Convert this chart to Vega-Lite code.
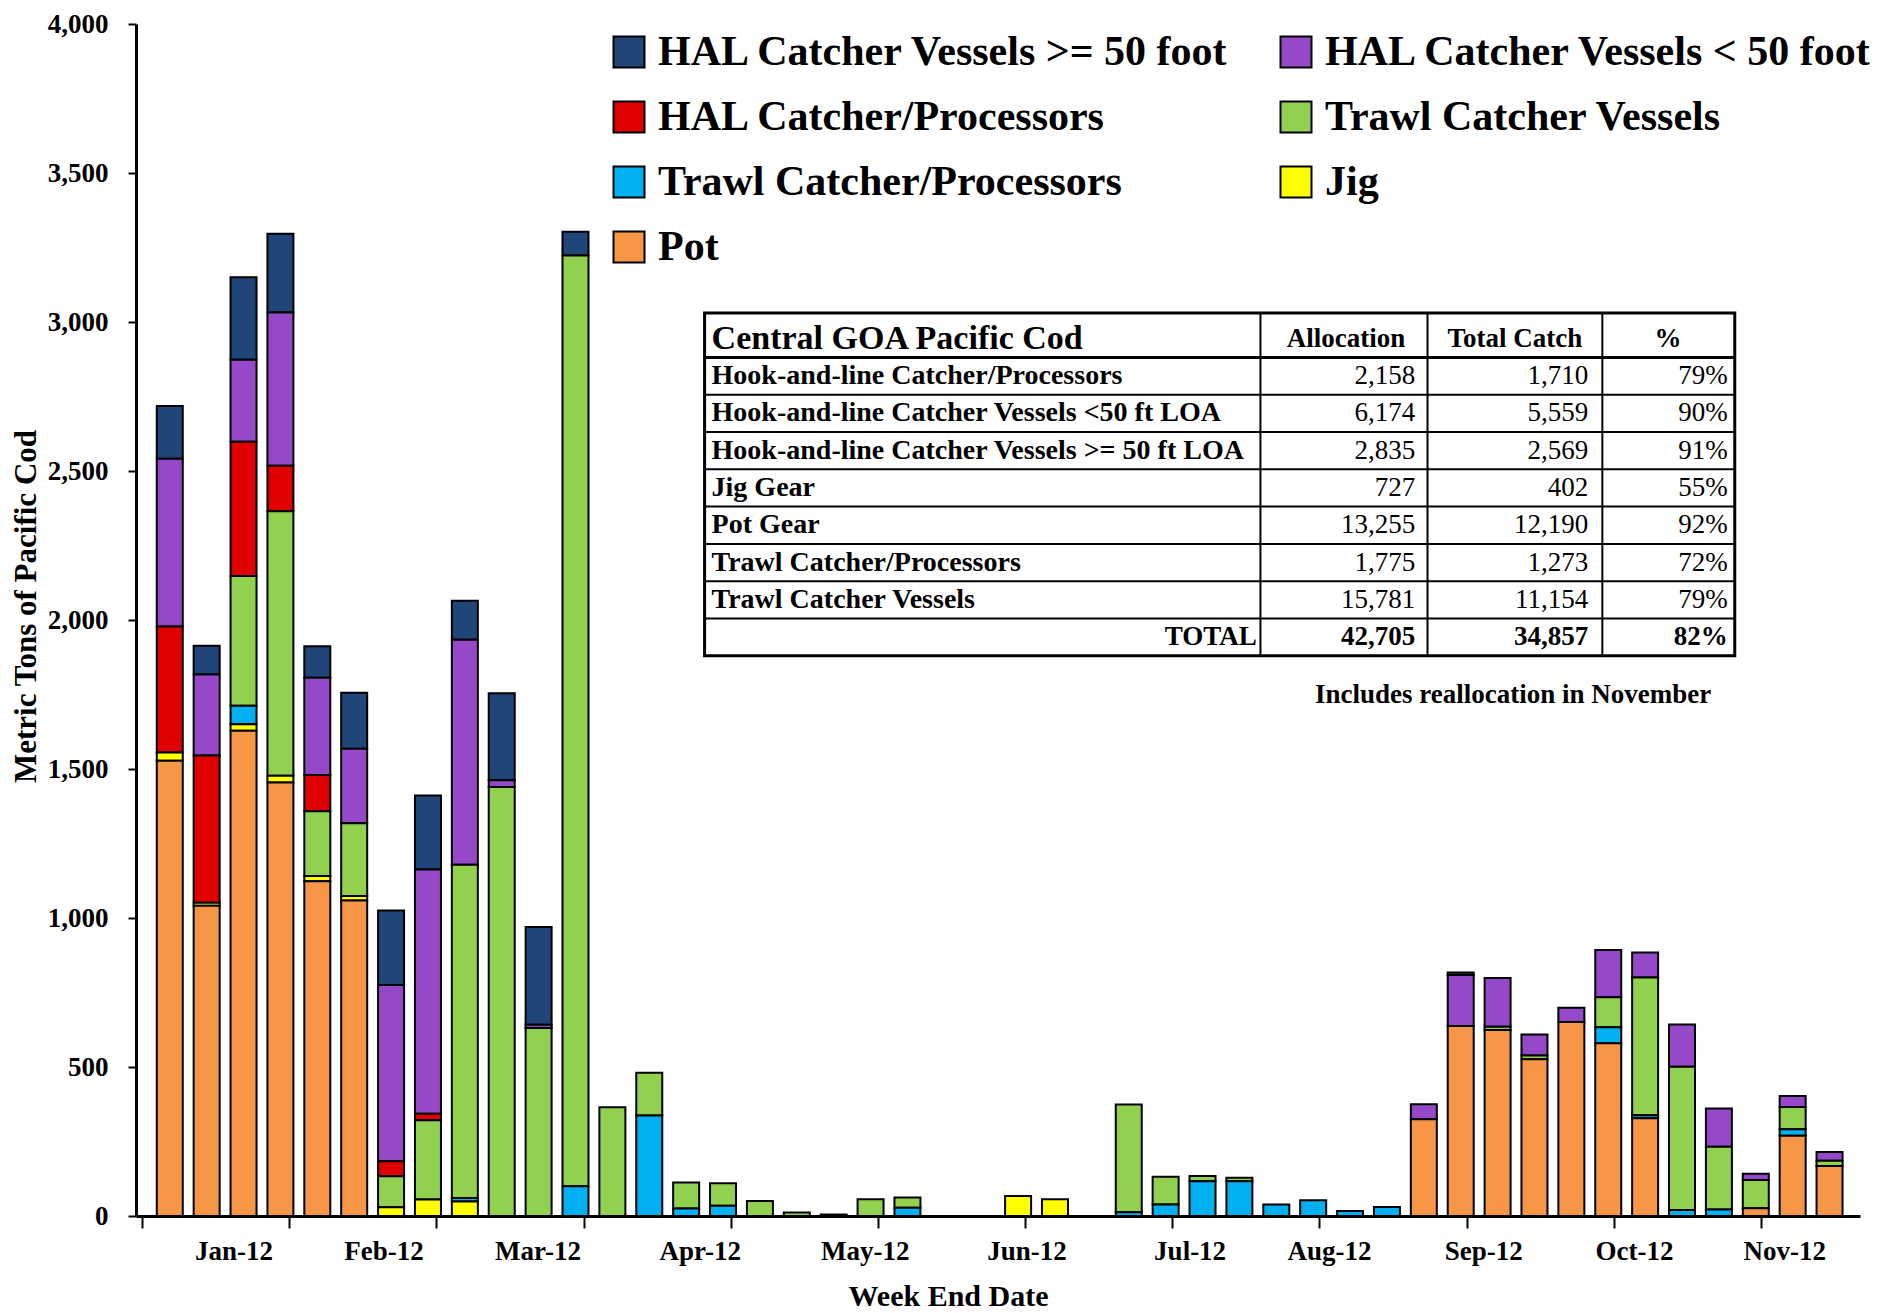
{
  "$schema": "https://vega.github.io/schema/vega-lite/v6.json",
  "width": 1724,
  "height": 1192,
  "autosize": {"type": "none"},
  "padding": {"left": 136, "top": 24, "right": 21, "bottom": 97},
  "background": "white",
  "config": {"view": {"stroke": null}, "font": "Liberation Serif"},
  "datasets": {
    "gears": [
      {"gear": "Pot", "series": 1},
      {"gear": "Jig", "series": 2},
      {"gear": "Trawl Catcher/Processors", "series": 3},
      {"gear": "Trawl Catcher Vessels", "series": 4},
      {"gear": "HAL Catcher/Processors", "series": 5},
      {"gear": "HAL Catcher Vessels < 50 foot", "series": 6},
      {"gear": "HAL Catcher Vessels >= 50 foot", "series": 7}
    ],
    "weeks": [
      {"week": 1, "HAL Catcher Vessels >= 50 foot": 177, "HAL Catcher Vessels < 50 foot": 563, "HAL Catcher/Processors": 423, "Trawl Catcher Vessels": 0, "Trawl Catcher/Processors": 0, "Jig": 27, "Pot": 1528},
      {"week": 2, "HAL Catcher Vessels >= 50 foot": 97, "HAL Catcher Vessels < 50 foot": 272, "HAL Catcher/Processors": 494, "Trawl Catcher Vessels": 0, "Trawl Catcher/Processors": 0, "Jig": 10, "Pot": 1041},
      {"week": 3, "HAL Catcher Vessels >= 50 foot": 277, "HAL Catcher Vessels < 50 foot": 275, "HAL Catcher/Processors": 450, "Trawl Catcher Vessels": 436, "Trawl Catcher/Processors": 62, "Jig": 22, "Pot": 1628},
      {"week": 4, "HAL Catcher Vessels >= 50 foot": 264, "HAL Catcher Vessels < 50 foot": 514, "HAL Catcher/Processors": 153, "Trawl Catcher Vessels": 888, "Trawl Catcher/Processors": 0, "Jig": 22, "Pot": 1455},
      {"week": 5, "HAL Catcher Vessels >= 50 foot": 106, "HAL Catcher Vessels < 50 foot": 326, "HAL Catcher/Processors": 122, "Trawl Catcher Vessels": 217, "Trawl Catcher/Processors": 0, "Jig": 18, "Pot": 1123},
      {"week": 6, "HAL Catcher Vessels >= 50 foot": 188, "HAL Catcher Vessels < 50 foot": 250, "HAL Catcher/Processors": 0, "Trawl Catcher Vessels": 244, "Trawl Catcher/Processors": 0, "Jig": 15, "Pot": 1059},
      {"week": 7, "HAL Catcher Vessels >= 50 foot": 250, "HAL Catcher Vessels < 50 foot": 591, "HAL Catcher/Processors": 51, "Trawl Catcher Vessels": 104, "Trawl Catcher/Processors": 0, "Jig": 29, "Pot": 0},
      {"week": 8, "HAL Catcher Vessels >= 50 foot": 248, "HAL Catcher Vessels < 50 foot": 820, "HAL Catcher/Processors": 22, "Trawl Catcher Vessels": 266, "Trawl Catcher/Processors": 0, "Jig": 55, "Pot": 0},
      {"week": 9, "HAL Catcher Vessels >= 50 foot": 131, "HAL Catcher Vessels < 50 foot": 755, "HAL Catcher/Processors": 0, "Trawl Catcher Vessels": 1119, "Trawl Catcher/Processors": 11, "Jig": 49, "Pot": 0},
      {"week": 10, "HAL Catcher Vessels >= 50 foot": 292, "HAL Catcher Vessels < 50 foot": 22, "HAL Catcher/Processors": 0, "Trawl Catcher Vessels": 1440, "Trawl Catcher/Processors": 0, "Jig": 0, "Pot": 0},
      {"week": 11, "HAL Catcher Vessels >= 50 foot": 328, "HAL Catcher Vessels < 50 foot": 11, "HAL Catcher/Processors": 0, "Trawl Catcher Vessels": 631, "Trawl Catcher/Processors": 0, "Jig": 0, "Pot": 0},
      {"week": 12, "HAL Catcher Vessels >= 50 foot": 80, "HAL Catcher Vessels < 50 foot": 0, "HAL Catcher/Processors": 0, "Trawl Catcher Vessels": 3123, "Trawl Catcher/Processors": 100, "Jig": 0, "Pot": 0},
      {"week": 13, "HAL Catcher Vessels >= 50 foot": 0, "HAL Catcher Vessels < 50 foot": 0, "HAL Catcher/Processors": 0, "Trawl Catcher Vessels": 365, "Trawl Catcher/Processors": 0, "Jig": 0, "Pot": 0},
      {"week": 14, "HAL Catcher Vessels >= 50 foot": 0, "HAL Catcher Vessels < 50 foot": 0, "HAL Catcher/Processors": 0, "Trawl Catcher Vessels": 144, "Trawl Catcher/Processors": 337, "Jig": 0, "Pot": 0},
      {"week": 15, "HAL Catcher Vessels >= 50 foot": 0, "HAL Catcher Vessels < 50 foot": 0, "HAL Catcher/Processors": 0, "Trawl Catcher Vessels": 87, "Trawl Catcher/Processors": 25, "Jig": 0, "Pot": 0},
      {"week": 16, "HAL Catcher Vessels >= 50 foot": 0, "HAL Catcher Vessels < 50 foot": 0, "HAL Catcher/Processors": 0, "Trawl Catcher Vessels": 76, "Trawl Catcher/Processors": 34, "Jig": 0, "Pot": 0},
      {"week": 17, "HAL Catcher Vessels >= 50 foot": 0, "HAL Catcher Vessels < 50 foot": 0, "HAL Catcher/Processors": 0, "Trawl Catcher Vessels": 50, "Trawl Catcher/Processors": 0, "Jig": 0, "Pot": 0},
      {"week": 18, "HAL Catcher Vessels >= 50 foot": 0, "HAL Catcher Vessels < 50 foot": 0, "HAL Catcher/Processors": 0, "Trawl Catcher Vessels": 12, "Trawl Catcher/Processors": 0, "Jig": 0, "Pot": 0},
      {"week": 19, "HAL Catcher Vessels >= 50 foot": 0, "HAL Catcher Vessels < 50 foot": 0, "HAL Catcher/Processors": 0, "Trawl Catcher Vessels": 0, "Trawl Catcher/Processors": 5, "Jig": 0, "Pot": 0},
      {"week": 20, "HAL Catcher Vessels >= 50 foot": 0, "HAL Catcher Vessels < 50 foot": 0, "HAL Catcher/Processors": 0, "Trawl Catcher Vessels": 56, "Trawl Catcher/Processors": 0, "Jig": 0, "Pot": 0},
      {"week": 21, "HAL Catcher Vessels >= 50 foot": 0, "HAL Catcher Vessels < 50 foot": 0, "HAL Catcher/Processors": 0, "Trawl Catcher Vessels": 34, "Trawl Catcher/Processors": 28, "Jig": 0, "Pot": 0},
      {"week": 22, "HAL Catcher Vessels >= 50 foot": 0, "HAL Catcher Vessels < 50 foot": 0, "HAL Catcher/Processors": 0, "Trawl Catcher Vessels": 0, "Trawl Catcher/Processors": 0, "Jig": 0, "Pot": 0},
      {"week": 23, "HAL Catcher Vessels >= 50 foot": 0, "HAL Catcher Vessels < 50 foot": 0, "HAL Catcher/Processors": 0, "Trawl Catcher Vessels": 0, "Trawl Catcher/Processors": 0, "Jig": 0, "Pot": 0},
      {"week": 24, "HAL Catcher Vessels >= 50 foot": 0, "HAL Catcher Vessels < 50 foot": 0, "HAL Catcher/Processors": 0, "Trawl Catcher Vessels": 0, "Trawl Catcher/Processors": 0, "Jig": 67, "Pot": 0},
      {"week": 25, "HAL Catcher Vessels >= 50 foot": 0, "HAL Catcher Vessels < 50 foot": 0, "HAL Catcher/Processors": 0, "Trawl Catcher Vessels": 0, "Trawl Catcher/Processors": 0, "Jig": 56, "Pot": 0},
      {"week": 26, "HAL Catcher Vessels >= 50 foot": 0, "HAL Catcher Vessels < 50 foot": 0, "HAL Catcher/Processors": 0, "Trawl Catcher Vessels": 0, "Trawl Catcher/Processors": 0, "Jig": 0, "Pot": 0},
      {"week": 27, "HAL Catcher Vessels >= 50 foot": 0, "HAL Catcher Vessels < 50 foot": 0, "HAL Catcher/Processors": 0, "Trawl Catcher Vessels": 361, "Trawl Catcher/Processors": 13, "Jig": 0, "Pot": 0},
      {"week": 28, "HAL Catcher Vessels >= 50 foot": 0, "HAL Catcher Vessels < 50 foot": 0, "HAL Catcher/Processors": 0, "Trawl Catcher Vessels": 93, "Trawl Catcher/Processors": 39, "Jig": 0, "Pot": 0},
      {"week": 29, "HAL Catcher Vessels >= 50 foot": 0, "HAL Catcher Vessels < 50 foot": 0, "HAL Catcher/Processors": 0, "Trawl Catcher Vessels": 17, "Trawl Catcher/Processors": 117, "Jig": 0, "Pot": 0},
      {"week": 30, "HAL Catcher Vessels >= 50 foot": 0, "HAL Catcher Vessels < 50 foot": 0, "HAL Catcher/Processors": 0, "Trawl Catcher Vessels": 11, "Trawl Catcher/Processors": 117, "Jig": 0, "Pot": 0},
      {"week": 31, "HAL Catcher Vessels >= 50 foot": 0, "HAL Catcher Vessels < 50 foot": 0, "HAL Catcher/Processors": 0, "Trawl Catcher Vessels": 0, "Trawl Catcher/Processors": 39, "Jig": 0, "Pot": 0},
      {"week": 32, "HAL Catcher Vessels >= 50 foot": 0, "HAL Catcher Vessels < 50 foot": 0, "HAL Catcher/Processors": 0, "Trawl Catcher Vessels": 0, "Trawl Catcher/Processors": 53, "Jig": 0, "Pot": 0},
      {"week": 33, "HAL Catcher Vessels >= 50 foot": 0, "HAL Catcher Vessels < 50 foot": 0, "HAL Catcher/Processors": 0, "Trawl Catcher Vessels": 0, "Trawl Catcher/Processors": 17, "Jig": 0, "Pot": 0},
      {"week": 34, "HAL Catcher Vessels >= 50 foot": 0, "HAL Catcher Vessels < 50 foot": 0, "HAL Catcher/Processors": 0, "Trawl Catcher Vessels": 0, "Trawl Catcher/Processors": 30, "Jig": 0, "Pot": 0},
      {"week": 35, "HAL Catcher Vessels >= 50 foot": 0, "HAL Catcher Vessels < 50 foot": 50, "HAL Catcher/Processors": 0, "Trawl Catcher Vessels": 0, "Trawl Catcher/Processors": 0, "Jig": 0, "Pot": 325},
      {"week": 36, "HAL Catcher Vessels >= 50 foot": 8, "HAL Catcher Vessels < 50 foot": 171, "HAL Catcher/Processors": 0, "Trawl Catcher Vessels": 0, "Trawl Catcher/Processors": 0, "Jig": 0, "Pot": 638},
      {"week": 37, "HAL Catcher Vessels >= 50 foot": 0, "HAL Catcher Vessels < 50 foot": 164, "HAL Catcher/Processors": 0, "Trawl Catcher Vessels": 11, "Trawl Catcher/Processors": 0, "Jig": 0, "Pot": 624},
      {"week": 38, "HAL Catcher Vessels >= 50 foot": 0, "HAL Catcher Vessels < 50 foot": 70, "HAL Catcher/Processors": 0, "Trawl Catcher Vessels": 13, "Trawl Catcher/Processors": 0, "Jig": 0, "Pot": 526},
      {"week": 39, "HAL Catcher Vessels >= 50 foot": 0, "HAL Catcher Vessels < 50 foot": 48, "HAL Catcher/Processors": 0, "Trawl Catcher Vessels": 0, "Trawl Catcher/Processors": 0, "Jig": 0, "Pot": 651},
      {"week": 40, "HAL Catcher Vessels >= 50 foot": 0, "HAL Catcher Vessels < 50 foot": 159, "HAL Catcher/Processors": 0, "Trawl Catcher Vessels": 101, "Trawl Catcher/Processors": 53, "Jig": 0, "Pot": 580},
      {"week": 41, "HAL Catcher Vessels >= 50 foot": 0, "HAL Catcher Vessels < 50 foot": 84, "HAL Catcher/Processors": 0, "Trawl Catcher Vessels": 462, "Trawl Catcher/Processors": 10, "Jig": 0, "Pot": 328},
      {"week": 42, "HAL Catcher Vessels >= 50 foot": 0, "HAL Catcher Vessels < 50 foot": 142, "HAL Catcher/Processors": 0, "Trawl Catcher Vessels": 481, "Trawl Catcher/Processors": 20, "Jig": 0, "Pot": 0},
      {"week": 43, "HAL Catcher Vessels >= 50 foot": 0, "HAL Catcher Vessels < 50 foot": 129, "HAL Catcher/Processors": 0, "Trawl Catcher Vessels": 210, "Trawl Catcher/Processors": 22, "Jig": 0, "Pot": 0},
      {"week": 44, "HAL Catcher Vessels >= 50 foot": 0, "HAL Catcher Vessels < 50 foot": 21, "HAL Catcher/Processors": 0, "Trawl Catcher Vessels": 95, "Trawl Catcher/Processors": 0, "Jig": 0, "Pot": 26},
      {"week": 45, "HAL Catcher Vessels >= 50 foot": 0, "HAL Catcher Vessels < 50 foot": 37, "HAL Catcher/Processors": 0, "Trawl Catcher Vessels": 75, "Trawl Catcher/Processors": 22, "Jig": 0, "Pot": 269},
      {"week": 46, "HAL Catcher Vessels >= 50 foot": 0, "HAL Catcher Vessels < 50 foot": 30, "HAL Catcher/Processors": 0, "Trawl Catcher Vessels": 17, "Trawl Catcher/Processors": 0, "Jig": 0, "Pot": 168}
    ],
    "table": [
      {"row": 1, "name": "Hook-and-line Catcher/Processors", "alloc": 2158, "catch": 1710, "pct": 0.79},
      {"row": 2, "name": "Hook-and-line Catcher Vessels <50 ft LOA", "alloc": 6174, "catch": 5559, "pct": 0.90},
      {"row": 3, "name": "Hook-and-line Catcher Vessels >= 50 ft LOA", "alloc": 2835, "catch": 2569, "pct": 0.91},
      {"row": 4, "name": "Jig Gear", "alloc": 727, "catch": 402, "pct": 0.55},
      {"row": 5, "name": "Pot Gear", "alloc": 13255, "catch": 12190, "pct": 0.92},
      {"row": 6, "name": "Trawl Catcher/Processors", "alloc": 1775, "catch": 1273, "pct": 0.72},
      {"row": 7, "name": "Trawl Catcher Vessels", "alloc": 15781, "catch": 11154, "pct": 0.79},
      {"row": 8, "name": "TOTAL", "alloc": 42705, "catch": 34857, "pct": 0.82}
    ]
  },
  "layer": [
    {
      "data": {"name": "weeks"},
      "transform": [
        {"fold": ["HAL Catcher Vessels >= 50 foot", "HAL Catcher Vessels < 50 foot", "HAL Catcher/Processors", "Trawl Catcher Vessels", "Trawl Catcher/Processors", "Jig", "Pot"], "as": ["gear", "tons"]},
        {"filter": "datum.tons > 0"},
        {"lookup": "gear", "from": {"data": {"name": "gears"}, "key": "gear", "fields": ["series"]}}
      ],
      "mark": {"type": "bar", "width": 26, "stroke": "black", "strokeWidth": 2},
      "encoding": {
        "x": {
          "field": "week", "type": "quantitative",
          "scale": {"domain": [0.22, 46.69], "nice": false, "zero": false},
          "axis": {
            "title": "Week End Date",
            "values": [0.25, 4.24, 8.23, 12.22, 16.21, 20.2, 24.19, 28.18, 32.17, 36.16, 40.15, 44.14, 2.725, 6.795, 10.97, 15.37, 19.84, 24.23, 28.65, 32.43, 36.61, 40.7, 44.77],
            "labelExpr": "indexof([2.725, 6.795, 10.97, 15.37, 19.84, 24.23, 28.65, 32.43, 36.61, 40.7, 44.77], datum.value) >= 0 ? ['Jan-12','Feb-12','Mar-12','Apr-12','May-12','Jun-12','Jul-12','Aug-12','Sep-12','Oct-12','Nov-12'][indexof([2.725, 6.795, 10.97, 15.37, 19.84, 24.23, 28.65, 32.43, 36.61, 40.7, 44.77], datum.value)] : ''",
            "tickOpacity": {"condition": {"test": "indexof([2.725, 6.795, 10.97, 15.37, 19.84, 24.23, 28.65, 32.43, 36.61, 40.7, 44.77], datum.value) >= 0", "value": 0}, "value": 1},
            "grid": false,
            "domainColor": "black", "domainWidth": 3,
            "tickColor": "black", "tickWidth": 2, "tickSize": 12,
            "labelPadding": 10, "labelOverlap": false, "labelFlush": false,
            "labelFont": "Liberation Serif", "labelFontWeight": "bold", "labelFontSize": 27, "labelColor": "black",
            "titleFont": "Liberation Serif", "titleFontWeight": "bold", "titleFontSize": 30, "titleColor": "black",
            "titleX": 812, "titleY": 80, "titleBaseline": "middle", "titleAnchor": "middle", "titleAlign": "center"
          }
        },
        "y": {
          "field": "tons", "type": "quantitative", "stack": "zero",
          "scale": {"domain": [0, 4000], "nice": false},
          "axis": {
            "title": "Metric Tons of Pacific Cod",
            "values": [0, 500, 1000, 1500, 2000, 2500, 3000, 3500, 4000],
            "labelExpr": "format(datum.value, ',')",
            "grid": false,
            "domainColor": "black", "domainWidth": 3,
            "tickColor": "black", "tickWidth": 2, "tickSize": 8,
            "labelPadding": 20,
            "labelFont": "Liberation Serif", "labelFontWeight": "bold", "labelFontSize": 27, "labelColor": "black",
            "titleFont": "Liberation Serif", "titleFontWeight": "bold", "titleFontSize": 31, "titleColor": "black",
            "titleX": -110, "titleY": 582, "titleAngle": -90, "titleBaseline": "middle", "titleAlign": "center"
          }
        },
        "order": {"field": "series", "type": "quantitative", "sort": "ascending"},
        "color": {
          "field": "gear", "type": "nominal",
          "scale": {
            "domain": ["HAL Catcher Vessels >= 50 foot", "HAL Catcher Vessels < 50 foot", "HAL Catcher/Processors", "Trawl Catcher Vessels", "Trawl Catcher/Processors", "Jig", "Pot"],
            "range": ["#1F4579", "#9549C9", "#E00000", "#92D050", "#00B0F0", "#FFFF00", "#F79646"]
          },
          "legend": {
            "orient": "none", "legendX": 472, "legendY": 7, "columns": 2, "direction": "horizontal", "title": null,
            "symbolType": "square", "symbolSize": 961, "symbolStrokeColor": "black", "symbolStrokeWidth": 2, "symbolOpacity": 1,
            "labelFont": "Liberation Serif", "labelFontWeight": "bold", "labelFontSize": 42, "labelColor": "black",
            "labelLimit": 1000, "labelOffset": 8, "rowPadding": 23, "columnPadding": 44, "padding": 0
          }
        }
      }
    },
    {
      "data": {"name": "table"},
      "layer": [
        {
          "data": {"values": [{}]},
          "mark": {"type": "rect", "fill": "white", "stroke": "black", "strokeWidth": 3},
          "encoding": {
            "x": {"datum": 15.5, "type": "quantitative"},
            "x2": {"datum": 43.43},
            "y": {"datum": -0.69, "type": "quantitative", "scale": {"domain": [-8.44, 23.52], "reverse": true, "nice": false, "zero": false}, "axis": null},
            "y2": {"datum": 8.5}
          }
        },
        {
          "transform": [{"filter": "datum.row < 8"}],
          "mark": {"type": "rule", "stroke": "black", "strokeWidth": 2, "yOffset": 18.65},
          "encoding": {
            "x": {"datum": 15.5, "type": "quantitative"},
            "x2": {"datum": 43.43},
            "y": {"field": "row", "type": "quantitative", "scale": {"domain": [-8.44, 23.52], "reverse": true, "nice": false, "zero": false}, "axis": null}
          }
        },
        {
          "data": {"values": [{}]},
          "mark": {"type": "rule", "stroke": "black", "strokeWidth": 3},
          "encoding": {
            "x": {"datum": 15.5, "type": "quantitative"},
            "x2": {"datum": 43.43},
            "y": {"datum": 0.5, "type": "quantitative", "scale": {"domain": [-8.44, 23.52], "reverse": true, "nice": false, "zero": false}, "axis": null}
          }
        },
        {
          "data": {"values": [{}]},
          "mark": {"type": "rule", "stroke": "black", "strokeWidth": 2},
          "encoding": {
            "x": {"datum": 30.57, "type": "quantitative"},
            "y": {"datum": -0.69, "type": "quantitative", "scale": {"domain": [-8.44, 23.52], "reverse": true, "nice": false, "zero": false}, "axis": null},
            "y2": {"datum": 8.5}
          }
        },
        {
          "data": {"values": [{}]},
          "mark": {"type": "rule", "stroke": "black", "strokeWidth": 2},
          "encoding": {
            "x": {"datum": 35.1, "type": "quantitative"},
            "y": {"datum": -0.69, "type": "quantitative", "scale": {"domain": [-8.44, 23.52], "reverse": true, "nice": false, "zero": false}, "axis": null},
            "y2": {"datum": 8.5}
          }
        },
        {
          "data": {"values": [{}]},
          "mark": {"type": "rule", "stroke": "black", "strokeWidth": 2},
          "encoding": {
            "x": {"datum": 39.84, "type": "quantitative"},
            "y": {"datum": -0.69, "type": "quantitative", "scale": {"domain": [-8.44, 23.52], "reverse": true, "nice": false, "zero": false}, "axis": null},
            "y2": {"datum": 8.5}
          }
        },
        {
          "data": {"values": [{}]},
          "mark": {"type": "text", "font": "Liberation Serif", "fontWeight": "bold", "fontSize": 34, "align": "left", "baseline": "middle", "color": "black"},
          "encoding": {
            "x": {"datum": 15.69, "type": "quantitative"},
            "y": {"datum": 0, "type": "quantitative", "scale": {"domain": [-8.44, 23.52], "reverse": true, "nice": false, "zero": false}, "axis": null},
            "text": {"value": "Central GOA Pacific Cod"}
          }
        },
        {
          "data": {"values": [{}]},
          "mark": {"type": "text", "font": "Liberation Serif", "fontWeight": "bold", "fontSize": 27, "align": "center", "baseline": "middle", "color": "black"},
          "encoding": {
            "x": {"datum": 32.89, "type": "quantitative"},
            "y": {"datum": 0, "type": "quantitative", "scale": {"domain": [-8.44, 23.52], "reverse": true, "nice": false, "zero": false}, "axis": null},
            "text": {"value": "Allocation"}
          }
        },
        {
          "data": {"values": [{}]},
          "mark": {"type": "text", "font": "Liberation Serif", "fontWeight": "bold", "fontSize": 27, "align": "center", "baseline": "middle", "color": "black"},
          "encoding": {
            "x": {"datum": 37.47, "type": "quantitative"},
            "y": {"datum": 0, "type": "quantitative", "scale": {"domain": [-8.44, 23.52], "reverse": true, "nice": false, "zero": false}, "axis": null},
            "text": {"value": "Total Catch"}
          }
        },
        {
          "data": {"values": [{}]},
          "mark": {"type": "text", "font": "Liberation Serif", "fontWeight": "bold", "fontSize": 27, "align": "center", "baseline": "middle", "color": "black"},
          "encoding": {
            "x": {"datum": 41.62, "type": "quantitative"},
            "y": {"datum": 0, "type": "quantitative", "scale": {"domain": [-8.44, 23.52], "reverse": true, "nice": false, "zero": false}, "axis": null},
            "text": {"value": "%"}
          }
        },
        {
          "transform": [{"filter": "datum.row < 8"}],
          "mark": {"type": "text", "font": "Liberation Serif", "fontWeight": "bold", "fontSize": 28, "align": "left", "baseline": "middle", "color": "black"},
          "encoding": {
            "x": {"datum": 15.69, "type": "quantitative"},
            "y": {"field": "row", "type": "quantitative", "scale": {"domain": [-8.44, 23.52], "reverse": true, "nice": false, "zero": false}, "axis": null},
            "text": {"field": "name"}
          }
        },
        {
          "transform": [{"filter": "datum.row == 8"}],
          "mark": {"type": "text", "font": "Liberation Serif", "fontWeight": "bold", "fontSize": 27, "align": "right", "baseline": "middle", "color": "black"},
          "encoding": {
            "x": {"datum": 30.47, "type": "quantitative"},
            "y": {"field": "row", "type": "quantitative", "scale": {"domain": [-8.44, 23.52], "reverse": true, "nice": false, "zero": false}, "axis": null},
            "text": {"field": "name"}
          }
        },
        {
          "transform": [{"filter": "datum.row < 8"}],
          "mark": {"type": "text", "font": "Liberation Serif", "fontSize": 27, "align": "right", "baseline": "middle", "color": "black"},
          "encoding": {
            "x": {"datum": 34.77, "type": "quantitative"},
            "y": {"field": "row", "type": "quantitative", "scale": {"domain": [-8.44, 23.52], "reverse": true, "nice": false, "zero": false}, "axis": null},
            "text": {"field": "alloc", "type": "quantitative", "format": ","}
          }
        },
        {
          "transform": [{"filter": "datum.row < 8"}],
          "mark": {"type": "text", "font": "Liberation Serif", "fontSize": 27, "align": "right", "baseline": "middle", "color": "black"},
          "encoding": {
            "x": {"datum": 39.46, "type": "quantitative"},
            "y": {"field": "row", "type": "quantitative", "scale": {"domain": [-8.44, 23.52], "reverse": true, "nice": false, "zero": false}, "axis": null},
            "text": {"field": "catch", "type": "quantitative", "format": ","}
          }
        },
        {
          "transform": [{"filter": "datum.row < 8"}],
          "mark": {"type": "text", "font": "Liberation Serif", "fontSize": 27, "align": "right", "baseline": "middle", "color": "black"},
          "encoding": {
            "x": {"datum": 43.24, "type": "quantitative"},
            "y": {"field": "row", "type": "quantitative", "scale": {"domain": [-8.44, 23.52], "reverse": true, "nice": false, "zero": false}, "axis": null},
            "text": {"field": "pct", "type": "quantitative", "format": ".0%"}
          }
        },
        {
          "transform": [{"filter": "datum.row == 8"}],
          "mark": {"type": "text", "font": "Liberation Serif", "fontWeight": "bold", "fontSize": 27, "align": "right", "baseline": "middle", "color": "black"},
          "encoding": {
            "x": {"datum": 34.77, "type": "quantitative"},
            "y": {"field": "row", "type": "quantitative", "scale": {"domain": [-8.44, 23.52], "reverse": true, "nice": false, "zero": false}, "axis": null},
            "text": {"field": "alloc", "type": "quantitative", "format": ","}
          }
        },
        {
          "transform": [{"filter": "datum.row == 8"}],
          "mark": {"type": "text", "font": "Liberation Serif", "fontWeight": "bold", "fontSize": 27, "align": "right", "baseline": "middle", "color": "black"},
          "encoding": {
            "x": {"datum": 39.46, "type": "quantitative"},
            "y": {"field": "row", "type": "quantitative", "scale": {"domain": [-8.44, 23.52], "reverse": true, "nice": false, "zero": false}, "axis": null},
            "text": {"field": "catch", "type": "quantitative", "format": ","}
          }
        },
        {
          "transform": [{"filter": "datum.row == 8"}],
          "mark": {"type": "text", "font": "Liberation Serif", "fontWeight": "bold", "fontSize": 27, "align": "right", "baseline": "middle", "color": "black"},
          "encoding": {
            "x": {"datum": 43.24, "type": "quantitative"},
            "y": {"field": "row", "type": "quantitative", "scale": {"domain": [-8.44, 23.52], "reverse": true, "nice": false, "zero": false}, "axis": null},
            "text": {"field": "pct", "type": "quantitative", "format": ".0%"}
          }
        },
        {
          "data": {"values": [{}]},
          "mark": {"type": "text", "font": "Liberation Serif", "fontWeight": "bold", "fontSize": 27, "align": "center", "baseline": "middle", "color": "black"},
          "encoding": {
            "x": {"datum": 37.42, "type": "quantitative"},
            "y": {"datum": 9.55, "type": "quantitative", "scale": {"domain": [-8.44, 23.52], "reverse": true, "nice": false, "zero": false}, "axis": null},
            "text": {"value": "Includes reallocation in November"}
          }
        }
      ]
    }
  ],
  "resolve": {"scale": {"y": "independent"}}
}
